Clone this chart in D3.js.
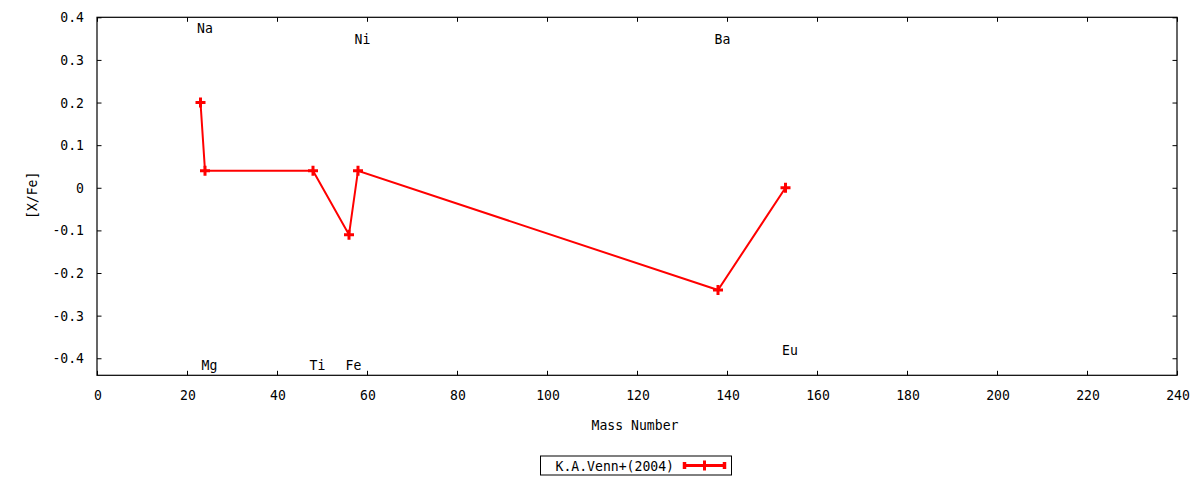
<!DOCTYPE html>
<html><head><meta charset="utf-8">
<script src="https://cdn.jsdelivr.net/npm/d3@7"></script>
<style>body{margin:0;background:#fff}</style>
</head><body>
<svg id="c" width="1200" height="480"></svg>
<script>
// Data
const elements   = ["Na", "Mg", "Ti", "Fe", "Ni", "Ba", "Eu"];
const massNumber = [23, 24, 48, 56, 58, 138, 153];
const xFe        = [0.20, 0.04, 0.04, -0.11, 0.04, -0.24, 0.00];
const labelX     = [24, 25, 49, 57, 59, 139, 154];
const labelY     = [0.375, -0.415, -0.415, -0.415, 0.35, 0.35, -0.38];
const xTicks     = [0,20,40,60,80,100,120,140,160,180,200,220,240];
const yTicks     = [-0.4,-0.3,-0.2,-0.1,0,0.1,0.2,0.3,0.4];
const seriesName = "K.A.Venn+(2004)";
const xTitle = "Mass Number", yTitle = "[X/Fe]";

const svg = d3.select("#c");
const L = 97, R = 1177, T = 17.3, B = 375.3;
const x = d3.scaleLinear().domain([0, 240]).range([L, R]);
const y = d3.scaleLinear().domain([-0.44, 0.4]).range([B, T]);
const FONT = "'DejaVu Sans Mono', monospace";
const CW = 7.9;

function txt(g, s, px, py, anchor) {
  return g.append("text").attr("x", px).attr("y", py)
    .attr("font-family", FONT).attr("font-size", 14.5)
    .attr("text-anchor", anchor || "middle")
    .attr("dominant-baseline", "central")
    .attr("textLength", s.length * CW).attr("lengthAdjust", "spacingAndGlyphs")
    .attr("fill", "#000").text(s);
}

// axes (ticks inward, mirrored)
const tl = 4.5;
const axB = svg.append("g").attr("transform", `translate(0,${B})`)
  .call(d3.axisBottom(x).tickValues(xTicks).tickSize(-tl).tickFormat(""));
const axT = svg.append("g").attr("transform", `translate(0,${T})`)
  .call(d3.axisTop(x).tickValues(xTicks).tickSize(-tl).tickFormat(""));
const axL = svg.append("g").attr("transform", `translate(${L},0)`)
  .call(d3.axisLeft(y).tickValues(yTicks).tickSize(-tl).tickFormat(""));
const axR = svg.append("g").attr("transform", `translate(${R},0)`)
  .call(d3.axisRight(y).tickValues(yTicks).tickSize(-tl).tickFormat(""));
svg.selectAll(".domain").remove();
svg.selectAll(".tick line").attr("stroke", "#000").attr("stroke-width", 1);

svg.append("rect").attr("x", L).attr("y", T).attr("width", R - L).attr("height", B - T)
  .attr("fill", "none").attr("stroke", "#000").attr("stroke-width", 1.2);

const labels = svg.append("g");
xTicks.forEach(v => txt(labels, String(v), x(v) + 1, B + 20));
yTicks.forEach(v => {
  const s = v === 0 ? "0" : (Math.round(v * 10) / 10).toFixed(1);
  txt(labels, s, L - 13, y(v), "end");
});
txt(labels, xTitle, (L + R) / 2 - 2, 425);
const yt = txt(labels, yTitle, 0, 0);
yt.attr("transform", `translate(32,${(T + B) / 2 - 1}) rotate(-90)`);

// element labels
elements.forEach((e, i) => txt(labels, e, x(labelX[i]), y(labelY[i])));

// series
const red = "#ff0000";
const pts = massNumber.map((m, i) => [m, xFe[i]]);
svg.append("path").datum(pts)
  .attr("d", d3.line().x(d => x(d[0])).y(d => y(d[1])))
  .attr("fill", "none").attr("stroke", red).attr("stroke-width", 2);

function plus(g, cx, cy) {
  g.append("path").attr("d", `M${cx-5},${cy}H${cx+5}M${cx},${cy-5}V${cy+5}`)
    .attr("stroke", red).attr("stroke-width", 3).attr("fill", "none");
}
const pg = svg.append("g");
pts.forEach(d => plus(pg, x(d[0]), y(d[1])));

// legend
const lg = svg.append("g");
lg.append("rect").attr("x", 540.5).attr("y", 456).attr("width", 191).attr("height", 19)
  .attr("fill", "none").attr("stroke", "#000").attr("stroke-width", 1);
txt(lg, seriesName, 674, 465.5, "end");
lg.append("path").attr("d", "M684,465.5H725").attr("stroke", red).attr("stroke-width", 3);
lg.append("path").attr("d", "M684.5,462V469M724.5,462V469").attr("stroke", red).attr("stroke-width", 3.5);
plus(lg, 704.5, 465.5);
</script>
</body></html>
